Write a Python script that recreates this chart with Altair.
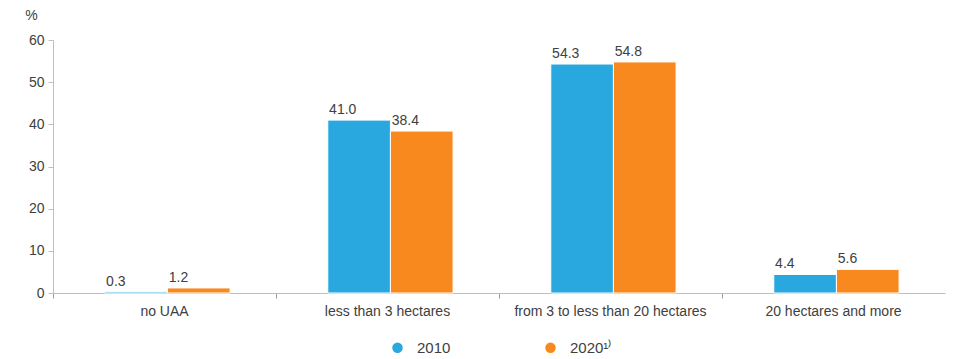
import altair as alt
import pandas as pd

# Share of holdings by size class of utilised agricultural area
categories = ["no UAA", "less than 3 hectares", "from 3 to less than 20 hectares", "20 hectares and more"]
years = ["2010", "2020¹⁾"]
values_2010 = [0.3, 41.0, 54.3, 4.4]
values_2020 = [1.2, 38.4, 54.8, 5.6]

rows = []
for cat, v10, v20 in zip(categories, values_2010, values_2020):
    rows.append({"category": cat, "year": years[0], "value": v10})
    rows.append({"category": cat, "year": years[1], "value": v20})
df = pd.DataFrame(rows)

colors = ["#29A8E0", "#F7891F"]
text_color = "#404040"
axis_color = "#BFBFBF"
font = "Liberation Sans"

x_enc = alt.X(
    "category:N",
    sort=categories,
    title=None,
    scale=alt.Scale(paddingInner=0, paddingOuter=0),
    axis=alt.Axis(
        bandPosition=0,
        labelAngle=0,
        labelFontSize=14,
        labelColor=text_color,
        labelFont=font,
        labelPadding=6,
        domainColor=axis_color,
        tickColor="#9A9A9A",
        tickSize=5,
        labelLimit=300,
    ),
)
offset_scale = alt.Scale(paddingInner=0, paddingOuter=0.78, align=0.53)

bars = alt.Chart(df).mark_bar(stroke="white", strokeWidth=1).encode(
    x=x_enc,
    xOffset=alt.XOffset("year:N", sort=years, scale=offset_scale),
    y=alt.Y(
        "value:Q",
        scale=alt.Scale(domain=[0, 60], nice=False),
        axis=alt.Axis(
            values=[0, 10, 20, 30, 40, 50, 60],
            grid=False,
            title="%",
            titleAngle=0,
            titleX=-22,
            titleY=-18,
            titleAlign="center",
            titleFontSize=14,
            titleFontWeight="normal",
            titleColor=text_color,
            titleFont=font,
            labelFontSize=14,
            labelColor=text_color,
            labelFont=font,
            labelPadding=4,
            domainColor=axis_color,
            tickColor=axis_color,
            tickSize=5,
        ),
    ),
    color=alt.Color(
        "year:N",
        sort=years,
        scale=alt.Scale(domain=years, range=colors),
        legend=alt.Legend(
            title=None,
            orient="none",
            direction="horizontal",
            legendX=337,
            legendY=300,
            symbolType="circle",
            symbolSize=110,
            symbolStrokeWidth=0,
            labelFontSize=15,
            labelColor=text_color,
            labelFont=font,
            labelOffset=12,
            columnPadding=92,
        ),
    ),
)

labels = alt.Chart(df).mark_text(
    align="left", baseline="bottom", dx=-30, dy=-3, fontSize=14, color=text_color, font=font
).encode(
    x=alt.X("category:N", sort=categories),
    xOffset=alt.XOffset("year:N", sort=years, scale=offset_scale),
    y="value:Q",
    text=alt.Text("value:Q", format=".1f"),
)

chart = (
    alt.layer(bars, labels)
    .properties(
        width=892,
        height=253,
        padding={"left": 53, "top": 40, "right": 9, "bottom": 66},
        autosize=alt.AutoSizeParams(type="none"),
        background="white",
    )
    .configure_view(strokeWidth=0, stroke="transparent")
)

chart.save("out.html", embed_options={"renderer": "svg", "actions": False})
